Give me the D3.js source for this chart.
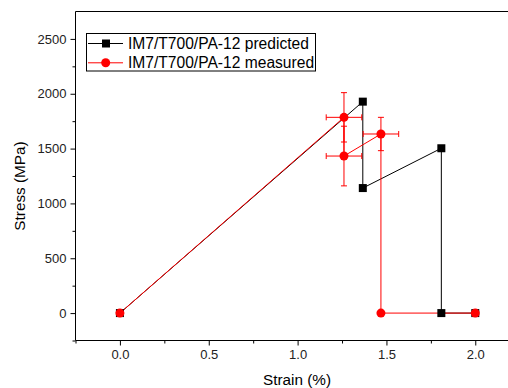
<!DOCTYPE html>
<html>
<head>
<meta charset="utf-8">
<script src="https://cdn.jsdelivr.net/npm/d3@7"></script>
<style>
  body { margin: 0; background: #fff; }
  svg { display: block; font-family: Arial, "Liberation Sans", sans-serif; }
</style>
</head>
<body>
<svg id="chart" width="508" height="388"></svg>
<script>
// predicted series
const predStrain = [0, 1.367, 1.367, 1.809, 1.809, 2.0];
const predStress = [0, 1928, 1140, 1503, 0, 0];

// measured series with error bars
const measStrain = [0, 1.261, 1.261, 1.469, 1.469, 2.0];
const measStress = [0, 1785, 1432, 1633, 0, 0];
const measStrainErr = [0, 0.1, 0.1, 0.1, 0, 0];
const measStressErr = [0, 225, 272, 152, 0, 0];

const xTicks = [0, 0.5, 1.0, 1.5, 2.0];
const yTicks = [0, 500, 1000, 1500, 2000, 2500];
const seriesNames = ["IM7/T700/PA-12 predicted", "IM7/T700/PA-12 measured"];

const margin = { top: 11.5, left: 75.5, bottom: 340.5 };

const svg = d3.select('#chart');

const x = d3.scaleLinear().domain([-0.25, 2.25]).range([margin.left, margin.left + 444.2]);
const y = d3.scaleLinear().domain([-250, 2750]).range([margin.bottom, margin.top]);

// frame top line
svg.append('line')
  .attr('x1', margin.left).attr('x2', 520)
  .attr('y1', margin.top).attr('y2', margin.top)
  .attr('stroke', '#000');

// bottom axis
const xAxis = svg.append('g')
  .attr('transform', `translate(0,${margin.bottom})`)
  .call(d3.axisBottom(x).tickValues(xTicks).tickFormat(d3.format('.1f')).tickSize(5).tickPadding(4));
svg.append('g')
  .attr('transform', `translate(0,${margin.bottom})`)
  .call(d3.axisBottom(x).tickValues([-0.25, 0.25, 0.75, 1.25, 1.75]).tickFormat('').tickSize(3))
  .select('.domain').remove();

// left axis
const yAxis = svg.append('g')
  .attr('transform', `translate(${margin.left},0)`)
  .call(d3.axisLeft(y).tickValues(yTicks).tickFormat(d3.format('d')).tickSize(5).tickPadding(4));
svg.append('g')
  .attr('transform', `translate(${margin.left},0)`)
  .call(d3.axisLeft(y).tickValues([-250, 250, 750, 1250, 1750, 2250]).tickFormat('').tickSize(3))
  .select('.domain').remove();

xAxis.select('.domain').attr('d', `M${margin.left},0H520`);
yAxis.select('.domain').attr('d', `M0,${margin.bottom}V${margin.top}`);
svg.selectAll('.tick text').style('font-size', '13px').attr('fill', '#222');

// axis titles
svg.append('text')
  .attr('x', 297).attr('y', 385)
  .attr('text-anchor', 'middle')
  .style('font-size', '15.3px')
  .text('Strain (%)');
svg.append('text')
  .attr('transform', 'translate(25,186) rotate(-90)')
  .attr('text-anchor', 'middle')
  .style('font-size', '15.3px')
  .text('Stress (MPa)');

const line = d3.line().x(d => x(d[0])).y(d => y(d[1]));
const predPts = predStrain.map((s, i) => [s, predStress[i]]);
const measPts = measStrain.map((s, i) => [s, measStress[i]]);

svg.append('path').attr('d', line(predPts)).attr('fill', 'none').attr('stroke', '#000').attr('stroke-width', 1);
svg.append('path').attr('d', line(measPts)).attr('fill', 'none').attr('stroke', '#ff0000').attr('stroke-width', 1);

// error bars
const err = svg.append('g').attr('stroke', '#ff0000').attr('stroke-width', 1);
measPts.forEach((p, i) => {
  const dy = measStressErr[i], dx = measStrainErr[i];
  if (dy > 0) {
    err.append('line').attr('x1', x(p[0])).attr('x2', x(p[0])).attr('y1', y(p[1] - dy)).attr('y2', y(p[1] + dy));
    [p[1] - dy, p[1] + dy].forEach(v => {
      err.append('line').attr('x1', x(p[0]) - 3).attr('x2', x(p[0]) + 3).attr('y1', y(v)).attr('y2', y(v));
    });
  }
  if (dx > 0) {
    err.append('line').attr('x1', x(p[0] - dx)).attr('x2', x(p[0] + dx)).attr('y1', y(p[1])).attr('y2', y(p[1]));
    [p[0] - dx, p[0] + dx].forEach(v => {
      err.append('line').attr('x1', x(v)).attr('x2', x(v)).attr('y1', y(p[1]) - 3).attr('y2', y(p[1]) + 3);
    });
  }
});

// markers
svg.selectAll('.sq').data(predPts).enter().append('rect')
  .attr('x', d => x(d[0]) - 4).attr('y', d => y(d[1]) - 4)
  .attr('width', 8).attr('height', 8).attr('fill', '#000');
svg.selectAll('.ci').data(measPts).enter().append('circle')
  .attr('cx', d => x(d[0])).attr('cy', d => y(d[1])).attr('r', 4.5).attr('fill', '#ff0000');

// legend
const legend = svg.append('g');
legend.append('rect')
  .attr('x', 86.5).attr('y', 33.5).attr('width', 229).attr('height', 37.5)
  .attr('fill', '#fff').attr('stroke', '#000');
const colors = ['#000', '#ff0000'];
seriesNames.forEach((name, i) => {
  const cy = 43.5 + i * 19.3;
  legend.append('line').attr('x1', 88).attr('x2', 123).attr('y1', cy).attr('y2', cy).attr('stroke', colors[i]);
  if (i === 0) {
    legend.append('rect').attr('x', 102).attr('y', cy - 4).attr('width', 8).attr('height', 8).attr('fill', colors[i]);
  } else {
    legend.append('circle').attr('cx', 105.7).attr('cy', cy).attr('r', 4.5).attr('fill', colors[i]);
  }
  legend.append('text')
    .attr('x', 128).attr('y', cy + 5.5)
    .style('font-size', '15.6px')
    .text(name);
});
</script>
</body>
</html>
